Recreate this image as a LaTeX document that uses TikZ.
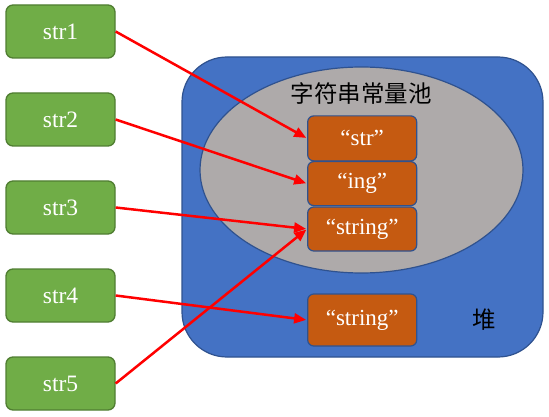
\documentclass[tikz,border=0pt]{standalone}
\usepackage{fontspec}
\setmainfont{Liberation Serif}
\newfontfamily\cjk{Noto Sans CJK SC}
\usetikzlibrary{shapes.geometric,arrows.meta}
\definecolor{ggreen}{HTML}{70AD47}
\definecolor{gborder}{HTML}{507E32}
\definecolor{hblue}{HTML}{4472C4}
\definecolor{bborder}{HTML}{2F528F}
\definecolor{pgray}{HTML}{AEAAAA}
\definecolor{sorange}{HTML}{C55A11}
\tikzset{
  varbox/.style={draw=gborder, fill=ggreen, rounded corners=7pt, minimum width=109pt, minimum height=53pt, text=white, font=\fontsize{23.5}{27}\selectfont, line width=1.3pt, inner sep=0pt},
  heapbox/.style={draw=bborder, fill=hblue, rounded corners=45pt, line width=1.2pt, inner sep=0pt},
  poolshape/.style={draw=bborder, fill=pgray, ellipse, line width=1.2pt, inner sep=0pt},
  strbox/.style={draw=bborder, fill=sorange, rounded corners=6pt, minimum width=109pt, text=white, font=\fontsize{23}{27}\selectfont, line width=1.2pt, inner sep=0pt},
  ref/.style={draw=red, line width=2.5pt, -{Triangle[length=12pt,width=10pt]}, shorten >=1pt},
  lbl/.style={font=\cjk\fontsize{23.5}{27}\selectfont, text=black, inner sep=0pt}
}
\begin{document}
\begin{tikzpicture}[x=1pt,y=-1pt]
\useasboundingbox (0,0) rectangle (549,417);
\node[heapbox, minimum width=361pt, minimum height=300pt] (heap) at (362.5,207) {};
\node[poolshape, minimum width=323pt, minimum height=206pt] (pool) at (361.5,170) {};
\node[lbl] (pooltitle) at (361,93) {字符串常量池};
\node[lbl] (heaptitle) at (484,320) {堆};
\node[strbox, minimum height=45pt] (s1) at (362.2,138.4) {“str”};
\node[strbox, minimum height=44pt] (s2) at (362.2,183.6) {“ing”};
\node[strbox, minimum height=44pt] (s3) at (362.2,229) {“string”};
\node[strbox, minimum height=52pt] (s4) at (362.2,320) {“string”};
\node[varbox] (v1) at (60.5,31.5) {str1};
\node[varbox] (v2) at (60.5,119.5) {str2};
\node[varbox] (v3) at (60.5,207.5) {str3};
\node[varbox] (v4) at (60.5,295.5) {str4};
\node[varbox] (v5) at (60.5,383.5) {str5};
\draw[ref] (v1.east) -- (s1.west);
\draw[ref] (v2.east) -- (s2.west);
\draw[ref] (v3.east) -- (s3.west);
\draw[ref] (v4.east) -- (s4.west);
\draw[ref] (v5.east) -- (s3.west);
\end{tikzpicture}
\end{document}
